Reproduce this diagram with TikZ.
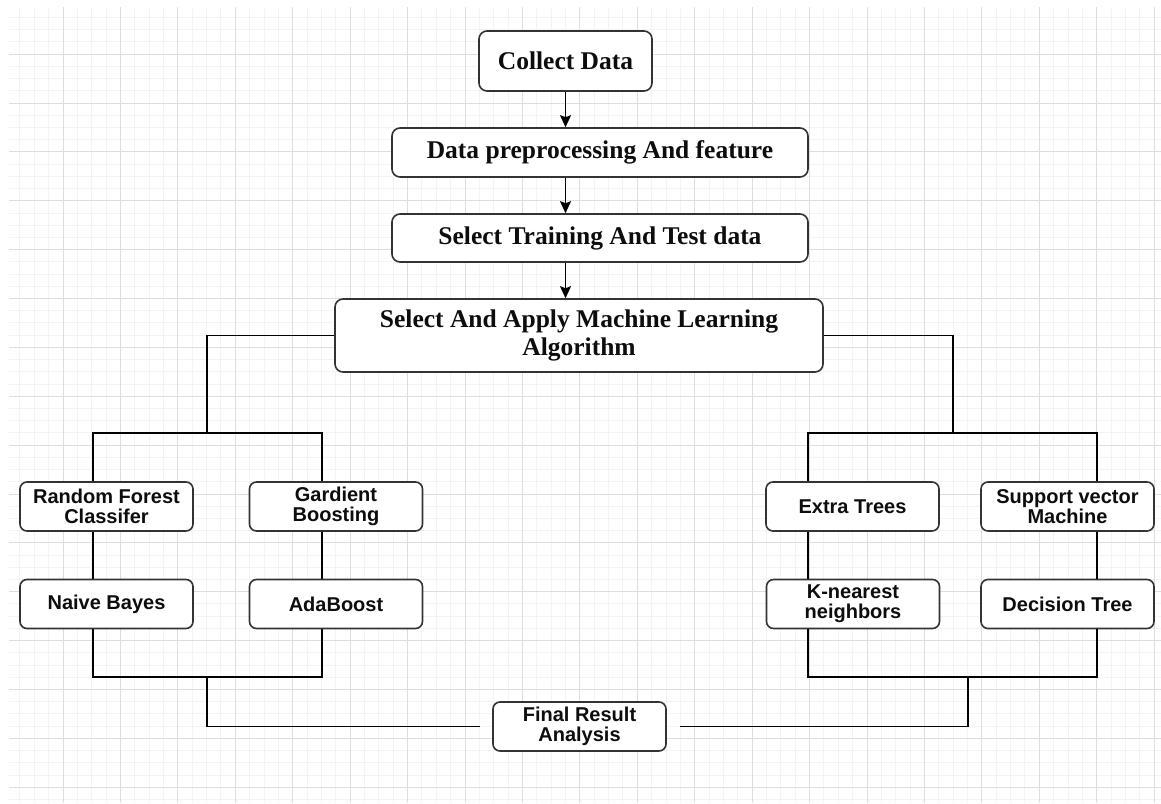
\documentclass[tikz,border=0pt]{standalone}
\usepackage{fontspec}
\setmainfont{Liberation Serif}
\setsansfont{Liberation Sans}
\usepackage{tikz}
\usetikzlibrary{arrows.meta}

\definecolor{minorgrid}{HTML}{F3F3F3}
\definecolor{majorgrid}{HTML}{DEDEDE}
\definecolor{boxline}{HTML}{333333}

\begin{document}
\begin{tikzpicture}[x=1pt, y=-1pt, line width=1.6pt,
	serifbox/.style={draw=boxline, fill=white, rounded corners=8pt, inner sep=0pt, align=center, text=black!95, font=\bfseries\fontsize{25.5}{28}\selectfont},
	sansbox/.style={draw=boxline, fill=white, rounded corners=7pt, inner sep=0pt, align=center, text=black!95, minimum width=173pt, minimum height=49pt, font=\sffamily\bfseries\fontsize{20}{20}\selectfont},
	wire/.style={black, line width=1.6pt},
	flow/.style={wire, -{Stealth[length=12pt,width=11pt,inset=2pt]}}]
	\useasboundingbox (0,0) rectangle (1161,803);
	\fill[white] (0,0) rectangle (1161,803);
	% background grid
	\begin{scope}[line width=1pt]
	\clip (9,7) rectangle (1161,803);
	\foreach \i in {0,...,80} \draw[minorgrid] ({5.6+14.3575*\i},0) -- ({5.6+14.3575*\i},803);
	\foreach \j in {0,...,65} \draw[minorgrid] (0,{5.3+12.2175*\j}) -- (1161,{5.3+12.2175*\j});
	\foreach \i in {0,4,...,80} \draw[majorgrid] ({5.6+14.3575*\i},0) -- ({5.6+14.3575*\i},803);
	\foreach \j in {0,4,...,64} \draw[majorgrid] (0,{5.3+12.2175*\j}) -- (1161,{5.3+12.2175*\j});
	\end{scope}
	% main steps
	\node[serifbox, minimum width=173pt, minimum height=60pt] (collect) at (565.5,61) {Collect Data};
	\node[serifbox, minimum width=416pt, minimum height=49pt] (prep) at (600,152.5) {Data preprocessing And feature};
	\node[serifbox, minimum width=416pt, minimum height=48pt] (split) at (600,238) {Select Training And Test data};
	\node[serifbox, minimum width=488pt, minimum height=73pt] (apply) at (579,335.5) {Select And Apply Machine Learning\\Algorithm};
	\draw[flow] (collect.south) -- (collect.south |- prep.north);
	\draw[flow] (collect.south |- prep.south) -- (collect.south |- split.north);
	\draw[flow] (collect.south |- split.south) -- (collect.south |- apply.north);
	% algorithms
	\node[sansbox] (rf) at (106.5,506.5) {Random Forest\\Classifer};
	\node[sansbox] (gb) at (336,506.5) {Gardient\\Boosting};
	\node[sansbox] (et) at (852.5,506.5) {Extra Trees};
	\node[sansbox] (svm) at (1067.5,506.5) {Support vector\\Machine};
	\node[sansbox] (nb) at (106.5,604) {Naive Bayes};
	\node[sansbox] (ada) at (336,604) {AdaBoost};
	\node[sansbox] (knn) at (853,604) {K-nearest\\neighbors};
	\node[sansbox] (dt) at (1067.5,604) {Decision Tree};
	\node[sansbox] (final) at (579.5,726.5) {Final Result\\Analysis};
	% left branch
	\coordinate (lsplit) at (207,433);
	\coordinate (la) at (93,433);
	\coordinate (lb) at (322,433);
	\coordinate (lc) at (93,677);
	\coordinate (ld) at (322,677);
	\coordinate (ljoin) at (207,677);
	\draw[wire] (apply.west) -| (lsplit);
	\draw[wire] (rf.north -| la) -- (la) -- (lb) -- (gb.north -| lb);
	\draw[wire] (rf.south -| la) -- (nb.north -| la);
	\draw[wire] (gb.south -| lb) -- (ada.north -| lb);
	\draw[wire] (nb.south -| lc) -- (lc) -- (ld) -- (ada.south -| ld);
	\draw[wire, shorten >=12pt] (ljoin) |- (final.west);
	% right branch
	\coordinate (rsplit) at (953,433);
	\coordinate (ra) at (808,433);
	\coordinate (rb) at (1097,433);
	\coordinate (rc) at (808,677);
	\coordinate (rd) at (1097,677);
	\coordinate (rjoin) at (968,677);
	\draw[wire] (apply.east) -| (rsplit);
	\draw[wire] (et.north -| ra) -- (ra) -- (rb) -- (svm.north -| rb);
	\draw[wire] (et.south -| ra) -- (knn.north -| ra);
	\draw[wire] (svm.south -| rb) -- (dt.north -| rb);
	\draw[wire] (knn.south -| rc) -- (rc) -- (rd) -- (dt.south -| rd);
	\draw[wire, shorten >=13pt] (rjoin) |- (final.east);
\end{tikzpicture}
\end{document}
